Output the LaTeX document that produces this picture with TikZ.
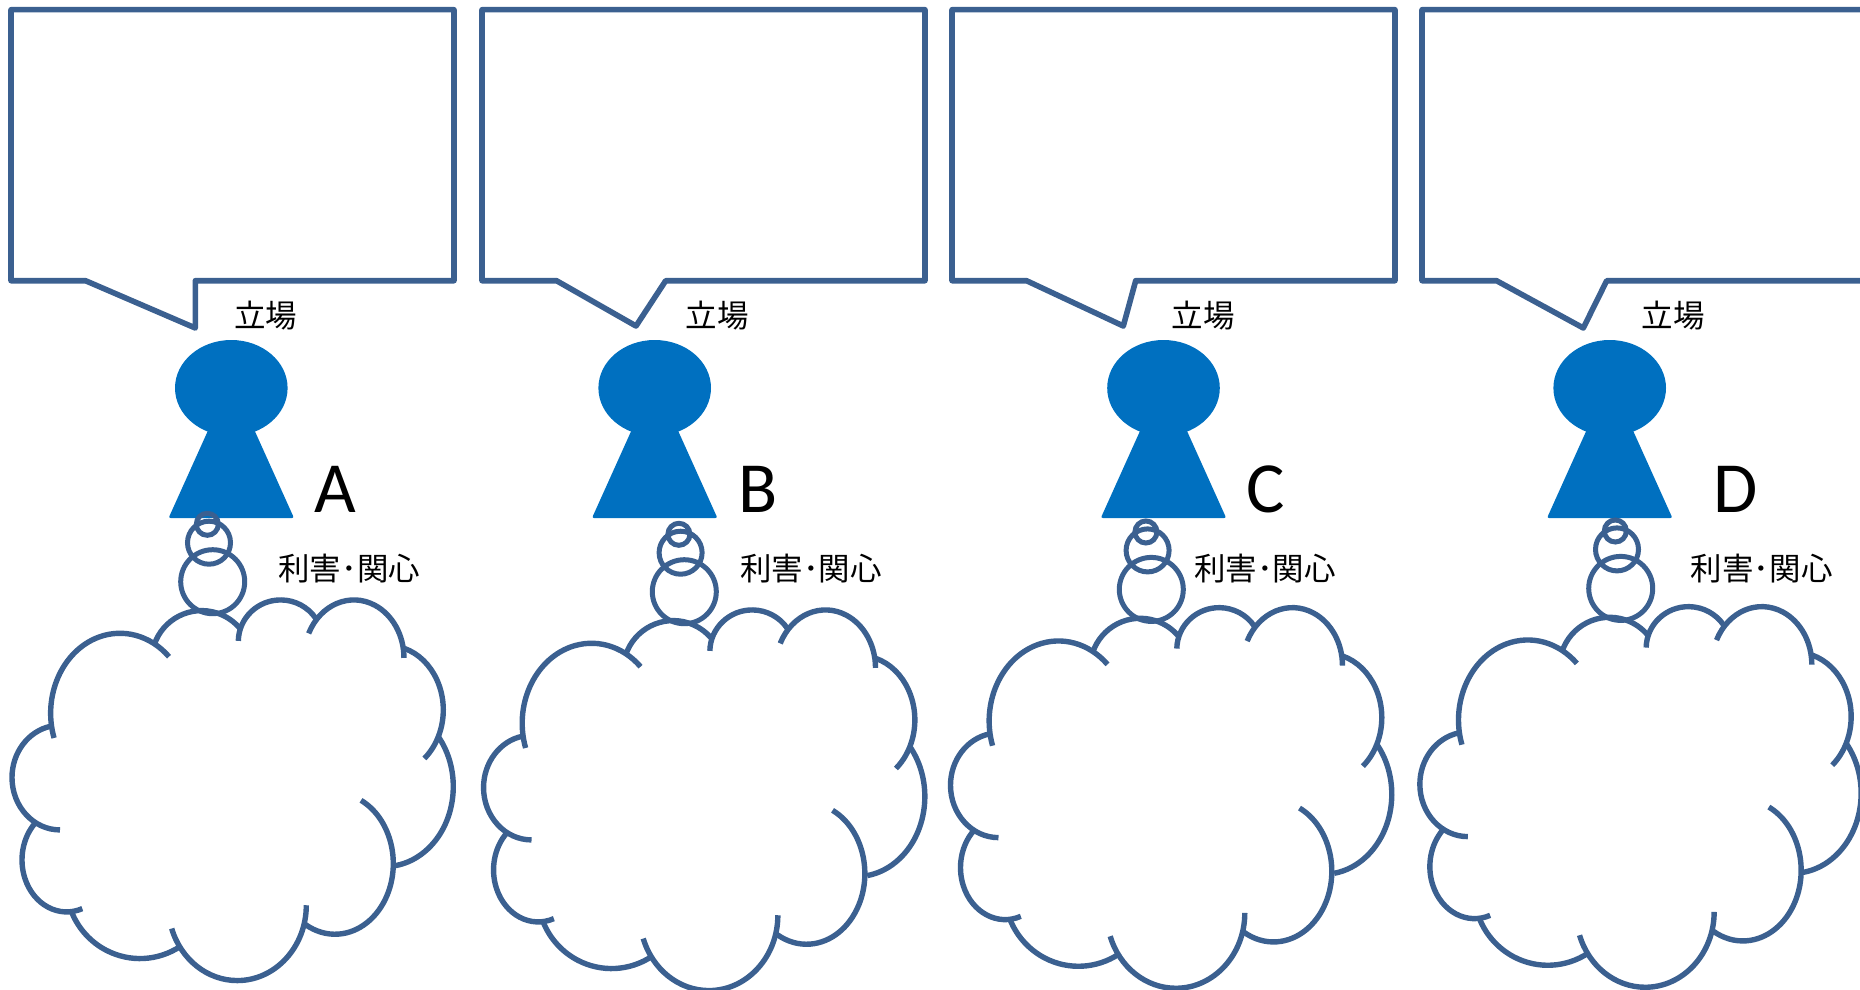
\documentclass[tikz,border=0pt]{standalone}
\usepackage{fontspec}
\setmainfont{Carlito}
\newfontfamily\jpfont{Noto Sans CJK JP}
\usepackage{tikz}
\usetikzlibrary{shapes.geometric}
\definecolor{lineblue}{HTML}{3B6090}
\definecolor{personblue}{HTML}{0070C0}
\tikzstyle{callout}=[draw=lineblue, line width=5.6pt, line join=round]
\tikzstyle{thought}=[draw=lineblue, line width=5.4pt]
\tikzstyle{bubble}=[circle, draw=lineblue, line width=5pt, inner sep=0pt]
\tikzstyle{head}=[ellipse, fill=personblue, inner sep=0pt, minimum width=112.6pt, minimum height=96pt]
\tikzstyle{body}=[fill=personblue, rounded corners=2pt]
\tikzstyle{letter}=[anchor=base, inner sep=0pt, font=\fontsize{72}{72}\selectfont]
\tikzstyle{tag}=[inner sep=0pt, font=\jpfont\fontsize{31.5}{32}\selectfont]
% one lobe of a cloud: centre x, centre y, x radius, y radius, from angle, to angle
\newcommand{\lobe}[6]{\draw[thought] (#1,#2) ++(#5:#3 and #4) arc[start angle=#5,end angle=#6,x radius=#3,y radius=#4];}
\newcommand{\thoughtcloud}{%
\lobe{360}{370}{208}{240}{162}{315}
\lobe{605}{212}{150}{150}{198}{321}
\lobe{842}{155}{127}{125}{181}{326}
\lobe{1062}{204}{150}{174}{205}{360}
\lobe{1165}{360}{165}{193}{287}{409}
\lobe{1155}{590}{205}{240}{-39}{81}
\lobe{1005}{821}{175}{212}{-63.5}{120.6}
\lobe{712}{946}{207}{226}{0}{162}
\lobe{420}{880}{222}{226}{57}{157}
\lobe{200}{810}{134}{156}{69.5}{225}
\lobe{180}{563}{144}{157}{90}{259}
}
\begin{document}
\begin{tikzpicture}[x=1pt,y=-1pt]
\clip[use as bounding box] (0,0) rectangle (1860,990);
% one person: head x, letter x, two text x, cloud shift, box left, tail tip and tail base
\foreach \who/\px/\lx/\sx/\ix/\dx/\dy/\bl/\tx/\ty/\tb in {%
A/231.3/335/265.7/349.3/0/0/11/195.3/328/195.3,
B/654.7/758/717/811/471.6/10/482/636/326/665.7,
C/1163.5/1266/1203.3/1265/938.6/7.7/952/1123.3/326/1135.7,
D/1609.7/1736/1673/1761.7/1408/6.7/1422/1583.3/328/1606.7}{
\draw[callout] (\bl,9.7) -- (\bl+443,9.7) -- (\bl+443,280.7) -- (\tb,280.7) -- (\tx,\ty) -- (\bl+74.5,280.7) -- (\bl,280.7) -- cycle;
\node[head] (head\who) at (\px,388) {};
\fill[body] (\px-20.8,425) -- (\px+20.8,425) -- (\px+62.7,518) -- (\px-62.7,518) -- cycle;
\node[letter] (name\who) at (\lx,512) {\who};
\node[tag] (pos\who) at (\sx,315.7) {立場};
\node[tag] (int\who) at (\ix,568.3) {利害･関心};
\node[bubble, minimum size=22pt] (small\who) at (207.3+\dx,524.3+\dy) {};
\node[bubble, minimum size=43pt] (mid\who) at (209+\dx,542.7+\dy) {};
\node[bubble, minimum size=64pt] (big\who) at (212.7+\dx,581.7+\dy) {};
\begin{scope}[x=.3333pt,y=-.3333pt,shift={(3*\dx,3*\dy+1770)}]
\thoughtcloud
\end{scope}
}
\end{tikzpicture}
\end{document}
